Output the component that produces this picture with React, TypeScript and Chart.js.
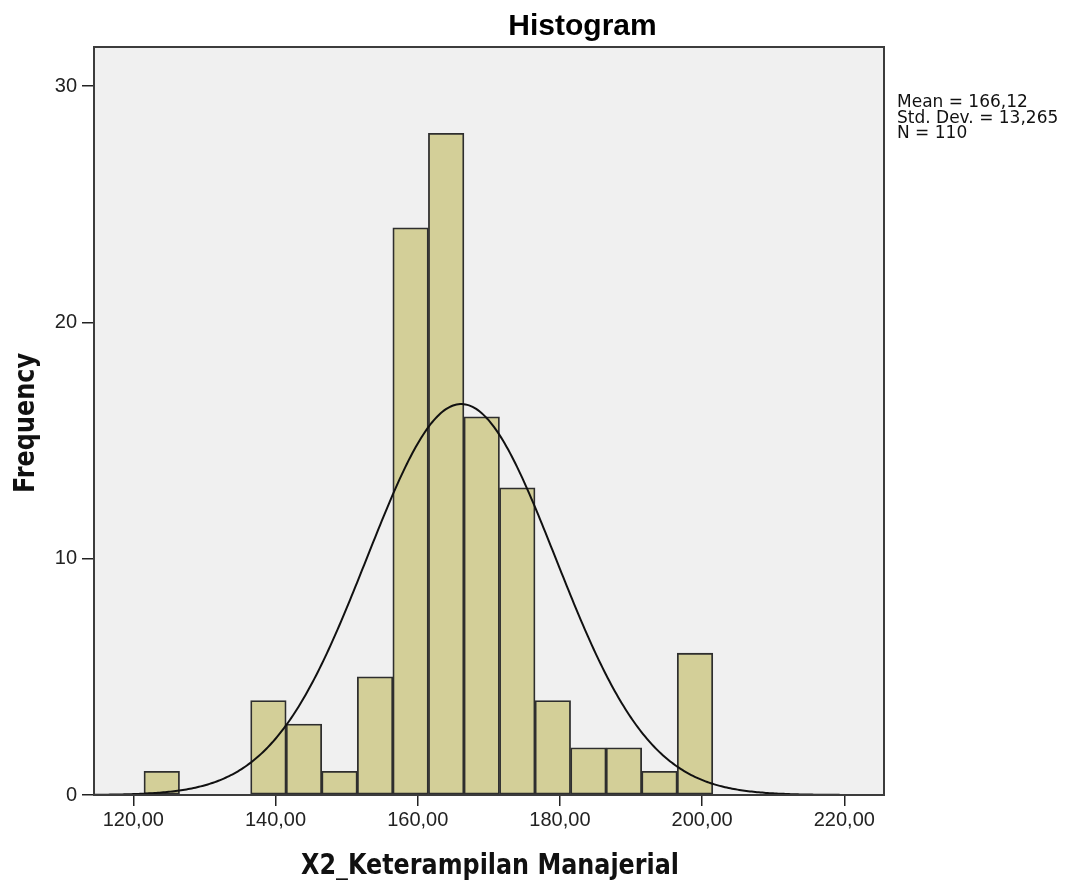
import React, { useEffect, useRef } from "react";
import { Chart, registerables } from "chart.js";

Chart.register(...registerables);

// ---- data ----
const BIN_CENTERS = [124, 129, 134, 139, 144, 149, 154, 159, 164, 169, 174, 179, 184, 189, 194, 199];
const FREQUENCIES = [1, 0, 0, 4, 3, 1, 5, 24, 28, 16, 13, 4, 2, 2, 1, 6];
const X_TICKS = [120, 140, 160, 180, 200, 220];
const Y_TICKS = [0, 10, 20, 30];
const MEAN = 166.12;
const STD_DEV = 13.265;
const N = 110;
const BIN_WIDTH = 5;
const STATS_LINES = ["Mean = 166,12", "Std. Dev. = 13,265", "N = 110"];
const TITLE = "Histogram";
const X_TITLE = "X2_Keterampilan Manajerial";
const Y_TITLE = "Frequency";
const X_MIN = 114.47;
const X_MAX = 225.58;
const Y_MAX = 31.65;

// Normal curve fitted by SPSS from the shown Mean / Std. Dev. / N (scaled to bin width)
function normalCurve() {
  const pts: { x: number; y: number }[] = [];
  for (let x = X_MIN; x <= X_MAX + 0.001; x += 0.25) {
    const z = (x - MEAN) / STD_DEV;
    const y = (N * BIN_WIDTH) / (STD_DEV * Math.sqrt(2 * Math.PI)) * Math.exp(-0.5 * z * z);
    pts.push({ x, y });
  }
  return pts;
}

const fmt = (v: number) => v.toFixed(2).replace(".", ",");

const decorPlugin = {
  id: "decor",
  beforeDatasetsDraw(chart: any) {
    const { ctx, chartArea } = chart;
    ctx.save();
    ctx.fillStyle = "#f0f0f0";
    ctx.fillRect(chartArea.left, chartArea.top, chartArea.right - chartArea.left, chartArea.bottom - chartArea.top);
    ctx.restore();
  },
  afterDraw(chart: any) {
    const { ctx, chartArea } = chart;
    ctx.save();
    // frame
    ctx.strokeStyle = "#3c3c3c";
    ctx.lineWidth = 2;
    ctx.strokeRect(chartArea.left, chartArea.top, chartArea.right - chartArea.left, chartArea.bottom - chartArea.top);

    ctx.fillStyle = "#000";
    // title
    ctx.font = "bold 30px 'Liberation Sans', Arial, sans-serif";
    ctx.textAlign = "center";
    ctx.textBaseline = "alphabetic";
    ctx.fillText(TITLE, 582.5, 35, 150);

    // x title
    ctx.font = "bold 28px 'DejaVu Sans', sans-serif";
    ctx.fillStyle = "#111";
    ctx.fillText(X_TITLE, (chartArea.left + chartArea.right) / 2 + 1, 874, 378);

    // y title
    ctx.save();
    ctx.translate(34, (chartArea.top + chartArea.bottom) / 2 + 2);
    ctx.rotate(-Math.PI / 2);
    ctx.fillText(Y_TITLE, 0, 0, 140);
    ctx.restore();

    // stats
    ctx.font = "17px 'DejaVu Sans', sans-serif";
    ctx.textAlign = "left";
    ctx.fillStyle = "#111";
    STATS_LINES.forEach((line, i) => {
      ctx.fillText(line, 897, 107 + i * 15.5, 171);
    });
    ctx.restore();
  },
};

export default function App() {
  const ref = useRef<HTMLCanvasElement | null>(null);

  useEffect(() => {
    if (!ref.current) return;
    const chart = new Chart(ref.current, {
      type: "bar",
      data: {
        datasets: [
          {
            type: "line",
            data: normalCurve(),
            borderColor: "#111",
            borderWidth: 2,
            pointRadius: 0,
            tension: 0,
            order: 0,
          } as any,
          {
            type: "bar",
            data: BIN_CENTERS.map((x, i) => ({ x, y: FREQUENCIES[i] })),
            backgroundColor: "#d3cf98",
            borderColor: "#2e2e2e",
            borderWidth: 1.8,
            borderSkipped: false,
            categoryPercentage: 1,
            barPercentage: 1,
            order: 1,
          } as any,
        ],
      },
      options: {
        animation: false,
        responsive: false,
        devicePixelRatio: 1,
        layout: { padding: { left: 0, top: 47, right: 191, bottom: 0 } },
        plugins: { legend: { display: false }, tooltip: { enabled: false } },
        scales: {
          x: {
            type: "linear",
            min: X_MIN,
            max: X_MAX,
            offset: false,
            afterBuildTicks: (s: any) => {
              s.ticks = X_TICKS.map((v) => ({ value: v }));
            },
            afterFit: (s: any) => {
              s.height = 85;
            },
            ticks: {
              autoSkip: false,
              maxRotation: 0,
              padding: 2,
              color: "#222",
              font: { family: "'Liberation Sans', Arial, sans-serif", size: 20 },
              callback: (v: any) => fmt(Number(v)),
            },
            grid: {
              offset: false,
              drawOnChartArea: false,
              drawTicks: true,
              tickLength: 11,
              color: "#222",
              lineWidth: 1.5,
            },
            border: { display: false },
          },
          y: {
            type: "linear",
            min: 0,
            max: Y_MAX,
            afterBuildTicks: (s: any) => {
              s.ticks = Y_TICKS.map((v) => ({ value: v }));
            },
            afterFit: (s: any) => {
              s.width = 94;
            },
            ticks: {
              autoSkip: false,
              padding: 5,
              color: "#222",
              font: { family: "'Liberation Sans', Arial, sans-serif", size: 20 },
              callback: (v: any) => String(v),
            },
            grid: {
              offset: false,
              drawOnChartArea: false,
              drawTicks: true,
              tickLength: 12,
              color: "#222",
              lineWidth: 1.5,
            },
            border: { display: false },
          },
        },
      },
      plugins: [decorPlugin],
    });
    return () => chart.destroy();
  }, []);

  return (
    <div style={{ position: "absolute", left: 0, top: 0, width: 1075, height: 880, background: "#fff" }}>
      <canvas ref={ref} width={1075} height={880} style={{ display: "block", width: 1075, height: 880 }} />
    </div>
  );
}
